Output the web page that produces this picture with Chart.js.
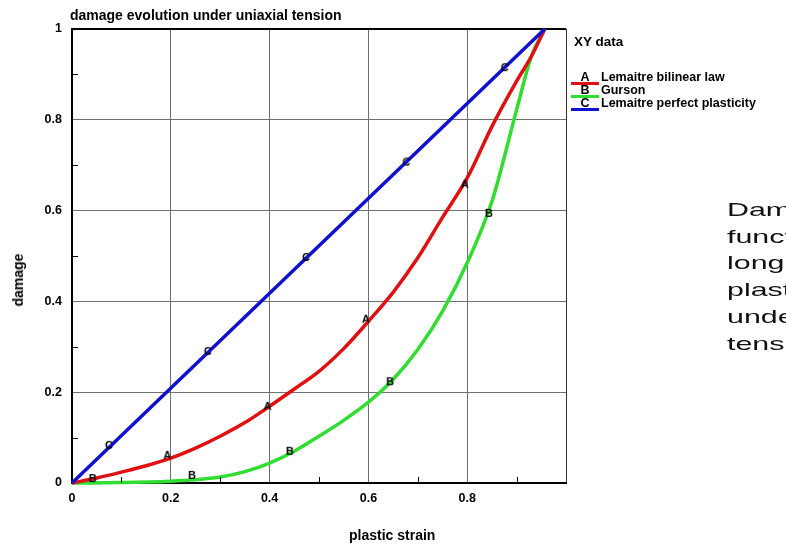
<!DOCTYPE html>
<html>
<head>
<meta charset="utf-8">
<script src="https://cdn.jsdelivr.net/npm/chart.js@4.4.1/dist/chart.umd.min.js"></script>
<style>
  html, body { margin: 0; padding: 0; background: #fff; }
  body { width: 786px; height: 549px; position: relative; overflow: hidden;
         font-family: 'Liberation Sans', Arial, sans-serif; color: #000; }
  #wrap { position: absolute; left: 0; top: 0; width: 786px; height: 549px; }
  .lbl { position: absolute; font-weight: bold; font-size: 14px; line-height: 16px; white-space: nowrap; }
  #ttl { left: 70px; top: 7px; }
  #xlab { left: 349px; top: 527px; }
  #ylab { left: 17.5px; top: 280px; transform: translate(-50%, -50%) rotate(-90deg); }
  .leg { position: absolute; font-weight: bold; font-size: 12.5px; line-height: 13px; white-space: nowrap; }
  .leg .key { display: inline-block; width: 28px; text-align: center; margin-right: 2px; }
  .bar { position: absolute; left: 571px; width: 28px; height: 3px; }
  #note { position: absolute; left: 727px; top: 197px; width: 59px; overflow: hidden; }
  #note div { font-size: 19px; line-height: 26.7px; color: #111; white-space: nowrap;
              transform: scaleX(1.6); transform-origin: 0 0; }
</style>
</head>
<body>
<div id="wrap"><canvas id="cv" width="786" height="549"></canvas></div>
<div class="lbl" id="ttl">damage evolution under uniaxial tension</div>
<div class="lbl" id="xlab">plastic strain</div>
<div class="lbl" id="ylab">damage</div>
<div class="leg" style="left:574px; top:35px; font-size:13.5px; line-height:14px">XY data</div>
<div class="leg" style="left:571px; top:71px"><span class="key">A</span>Lemaitre bilinear law</div>
<div class="leg" style="left:571px; top:84px"><span class="key">B</span>Gurson</div>
<div class="leg" style="left:571px; top:97px"><span class="key">C</span>Lemaitre perfect plasticity</div>
<div class="bar" style="top:82px; background:#e01010"></div>
<div class="bar" style="top:95px; background:#30dd30"></div>
<div class="bar" style="top:108px; background:#1010d0"></div>
<div id="note"><div>Damage as a<br>function of<br>longitudinal<br>plastic strain<br>under uniaxial<br>tension</div></div>
<script>
'use strict';

// ─── 데이터 ───────────────────────────────────────────
// A: Lemaitre bilinear law
const strainA = [0, 0.05, 0.1, 0.15, 0.2, 0.25, 0.3, 0.35, 0.4, 0.45, 0.5, 0.55, 0.6, 0.65, 0.7, 0.75, 0.8, 0.85, 0.9, 0.93, 0.957];
const damageA = [0, 0.011, 0.024, 0.038, 0.055, 0.077, 0.103, 0.133, 0.169, 0.207, 0.246, 0.296, 0.356, 0.42, 0.496, 0.585, 0.672, 0.785, 0.885, 0.94, 1];
// B: Gurson
const strainB = [0, 0.1, 0.2, 0.25, 0.3, 0.35, 0.4, 0.45, 0.5, 0.55, 0.6, 0.65, 0.7, 0.75, 0.8, 0.85, 0.9, 0.93, 0.957];
const damageB = [0, 0.001, 0.004, 0.007, 0.013, 0.025, 0.044, 0.07, 0.103, 0.138, 0.178, 0.228, 0.294, 0.378, 0.485, 0.62, 0.822, 0.94, 1];
// C: Lemaitre perfect plasticity
const strainC = [0, 0.957];
const damageC = [0, 1];

// 곡선 위 문자 마커 위치
const markAx = [0.193, 0.396, 0.595, 0.795];
const markAy = [0.062, 0.170, 0.362, 0.659];
const markBx = [0.042, 0.243, 0.441, 0.644, 0.844];
const markBy = [0.011, 0.018, 0.071, 0.224, 0.595];
const markCx = [0.075, 0.275, 0.474, 0.677, 0.876];
const markCy = [0.084, 0.291, 0.498, 0.708, 0.916];

const xTicks = [0, 0.2, 0.4, 0.6, 0.8];
const yTicks = [0, 0.2, 0.4, 0.6, 0.8, 1];

// ─── helpers ──────────────────────────────────────────────
function pts(xs, ys) { return xs.map((x, i) => ({ x, y: ys[i] })); }

function letterIcon(ch) {
  const c = document.createElement('canvas');
  c.width = 12; c.height = 12;
  const g = c.getContext('2d');
  g.font = 'bold 11px "Liberation Sans", Arial, sans-serif';
  g.textAlign = 'center';
  g.textBaseline = 'middle';
  g.fillStyle = '#000';
  g.fillText(ch, 6, 6.5);
  return c;
}

function curve(data, color, order) {
  return {
    data, order,
    showLine: true,
    borderColor: color,
    borderWidth: 3.5,
    pointRadius: 0,
    cubicInterpolationMode: 'monotone',
    clip: 4
  };
}

function marks(data, ch) {
  return {
    data, order: -1,
    showLine: false,
    pointStyle: letterIcon(ch),
    pointRadius: 6,
    clip: false
  };
}

const isMajor = v => Math.round(v * 10) % 2 === 0;

// 안쪽 보조 눈금 (0.1, 0.3 ...)
const minorTicks = {
  id: 'minorTicks',
  afterDatasetsDraw(chart) {
    const { ctx, chartArea: a, scales: { x, y } } = chart;
    ctx.save();
    ctx.strokeStyle = '#000';
    ctx.lineWidth = 1;
    ctx.beginPath();
    x.ticks.forEach(t => {
      if (isMajor(t.value)) return;
      const px = Math.round(x.getPixelForValue(t.value)) + 0.5;
      ctx.moveTo(px, a.bottom); ctx.lineTo(px, a.bottom - 6);
    });
    y.ticks.forEach(t => {
      if (isMajor(t.value)) return;
      const py = Math.round(y.getPixelForValue(t.value)) + 0.5;
      ctx.moveTo(a.left, py); ctx.lineTo(a.left + 6, py);
    });
    ctx.stroke();
    ctx.restore();
  }
};

const tickFont = { family: '"Liberation Sans", Arial, sans-serif', size: 12.5, weight: 'bold' };

new Chart(document.getElementById('cv'), {
  type: 'scatter',
  data: {
    datasets: [
      curve(pts(strainC, damageC), '#1010d0', 1),
      curve(pts(strainA, damageA), '#e01010', 2),
      curve(pts(strainB, damageB), '#30dd30', 3),
      marks(pts(markAx, markAy), 'A'),
      marks(pts(markBx, markBy), 'B'),
      marks(pts(markCx, markCy), 'C')
    ]
  },
  options: {
    responsive: false,
    animation: false,
    events: [],
    layout: { padding: { top: 29, right: 220, left: 0, bottom: 0 } },
    plugins: { legend: { display: false }, tooltip: { enabled: false } },
    scales: {
      x: {
        type: 'linear', min: 0, max: 1,
        afterFit: s => { s.height = 66; },
        ticks: {
          stepSize: 0.1, color: '#000', font: tickFont, padding: 8, maxRotation: 0, autoSkip: false,
          callback: v => xTicks.some(t => Math.abs(t - v) < 1e-6) ? String(+v.toFixed(1)) : ''
        },
        grid: {
          drawTicks: false,
          color: c => isMajor(c.tick.value) ? (Math.abs(c.tick.value - 1) < 1e-6 ? '#333' : '#707070') : 'rgba(0,0,0,0)',
          lineWidth: 1
        },
        border: { color: '#000', width: 2 }
      },
      y: {
        type: 'linear', min: 0, max: 1,
        afterFit: s => { s.width = 72; },
        ticks: {
          stepSize: 0.1, color: '#000', font: tickFont, padding: 10, autoSkip: false,
          callback: v => yTicks.some(t => Math.abs(t - v) < 1e-6) ? String(+v.toFixed(1)) : ''
        },
        grid: {
          drawTicks: false,
          color: c => {
            if (Math.abs(c.tick.value - 1) < 1e-6) return '#000';
            return isMajor(c.tick.value) ? '#707070' : 'rgba(0,0,0,0)';
          },
          lineWidth: c => Math.abs(c.tick.value - 1) < 1e-6 ? 2 : 1
        },
        border: { color: '#000', width: 2 }
      }
    }
  },
  plugins: [minorTicks]
});
</script>
</body>
</html>
